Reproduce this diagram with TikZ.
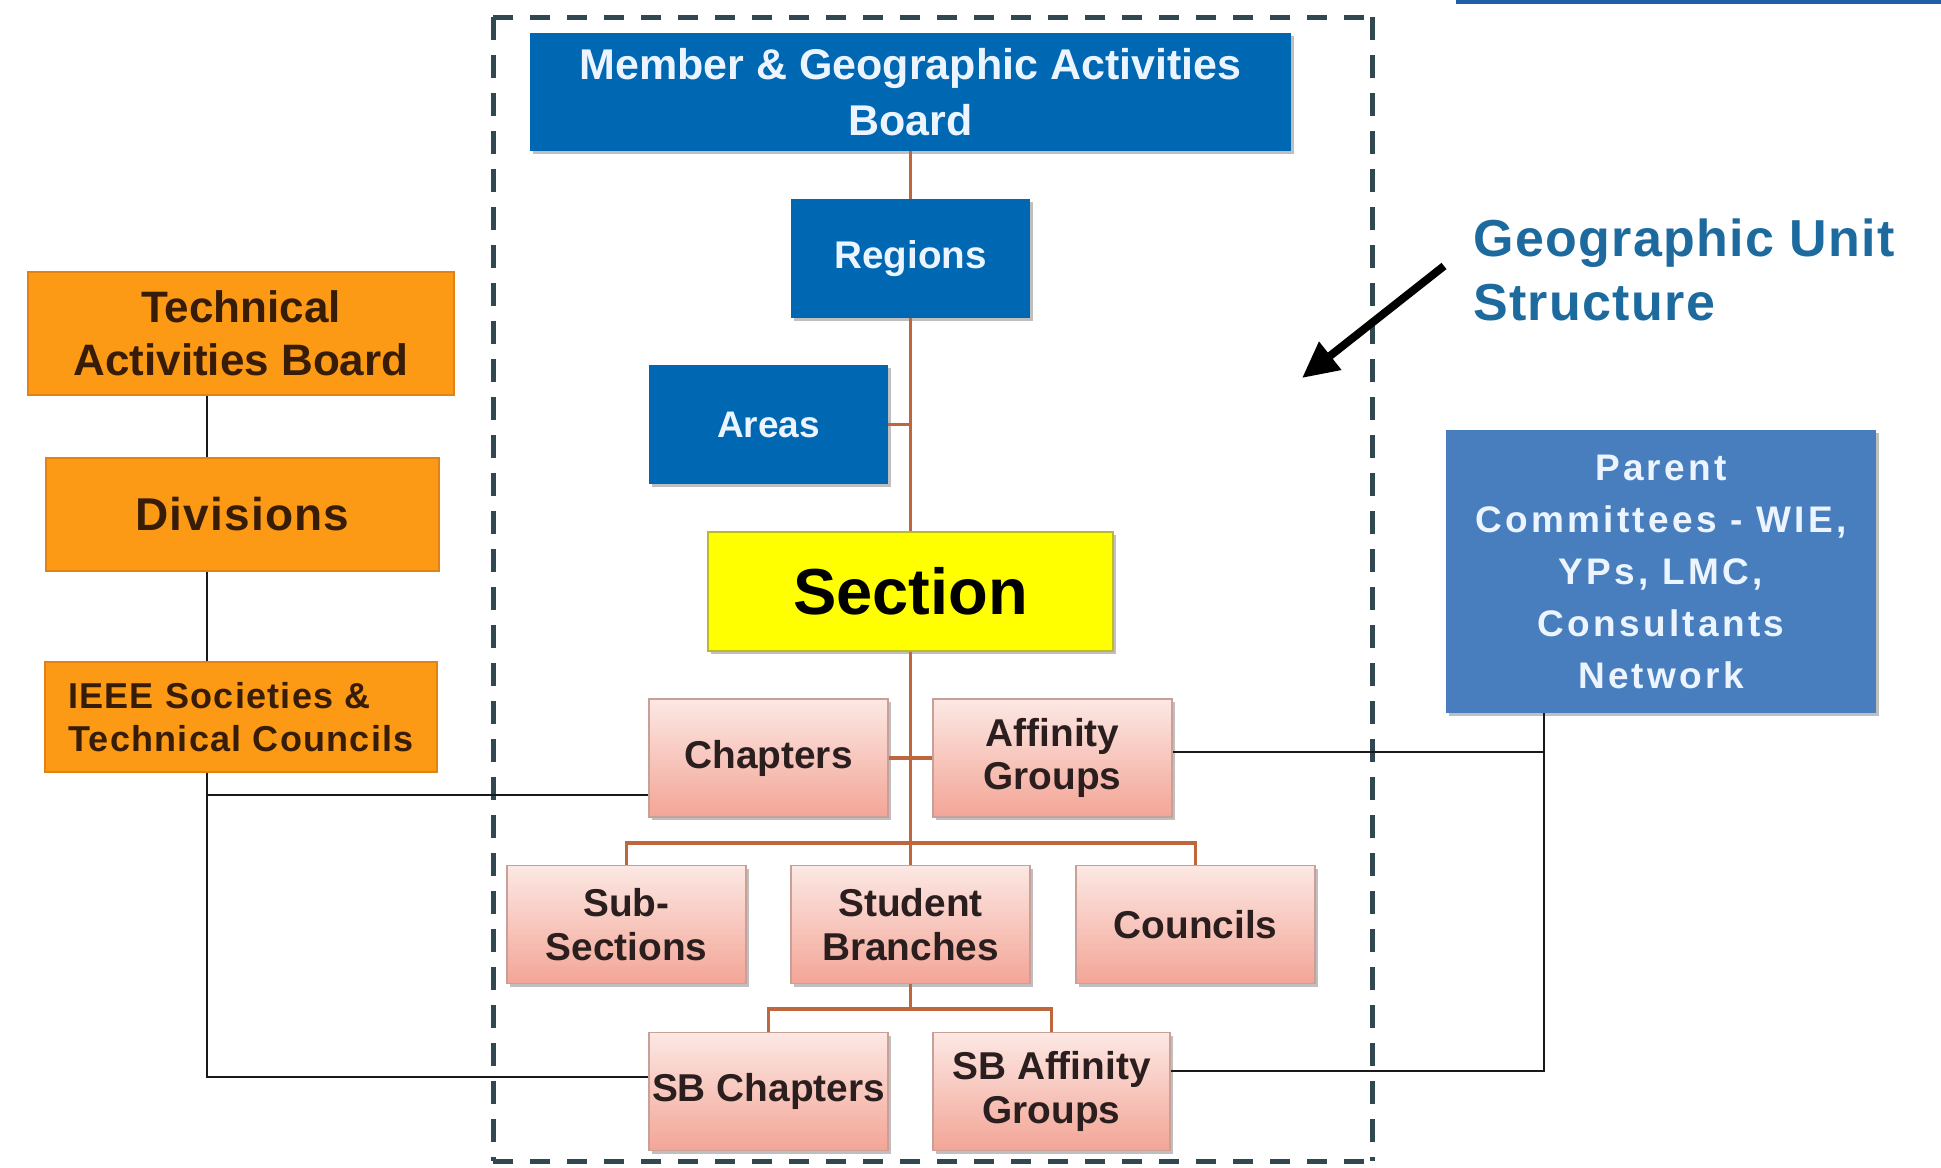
\documentclass[tikz,border=0pt]{standalone}
\usepackage{fontspec}
\setmainfont{Liberation Sans}
\usetikzlibrary{shadows,arrows.meta}
\definecolor{mgablue}{RGB}{0,103,178}
\definecolor{pcblue}{RGB}{72,126,190}
\definecolor{orng}{RGB}{252,154,22}
\definecolor{orngedge}{RGB}{225,130,20}
\definecolor{orngtxt}{RGB}{55,28,8}
\definecolor{secyellow}{RGB}{255,255,0}
\definecolor{secedge}{RGB}{190,185,40}
\definecolor{pinktop}{RGB}{252,232,228}
\definecolor{pinkbot}{RGB}{243,165,150}
\definecolor{pinkedge}{RGB}{200,160,152}
\definecolor{pinktxt}{RGB}{42,30,30}
\definecolor{trunk}{RGB}{190,102,60}
\definecolor{dashc}{RGB}{50,72,80}
\definecolor{geotxt}{RGB}{28,106,158}
\definecolor{topbar}{RGB}{31,95,168}
\definecolor{bluetxt}{RGB}{236,245,255}
\tikzset{
  softshadow/.style={drop shadow={shadow xshift=1.5pt, shadow yshift=-1.5pt, opacity=0.25, fill=black}},
  bluebox/.style={rectangle, fill=mgablue, text=bluetxt, align=center, inner sep=0pt, softshadow},
  pinkbox/.style={rectangle, draw=pinkedge, line width=0.6pt, top color=pinktop, bottom color=pinkbot,
     text=pinktxt, font=\bfseries\fontsize{19.4}{21.7}\selectfont, align=center,
     minimum width=119.5pt, minimum height=59pt, inner sep=0pt, softshadow},
  orangebox/.style={rectangle, fill=orng, draw=orngedge, line width=0.6pt, text=orngtxt, align=center, inner sep=0pt},
  tline/.style={draw=trunk, line width=1.8pt},
  bline/.style={draw=black!90, line width=1.4pt},
  dashh/.style={draw=dashc, line width=2.5pt, dash pattern=on 10pt off 8.5pt},
  dashv/.style={draw=dashc, line width=2.5pt, dash pattern=on 11.5pt off 7.5pt},
}
\begin{document}
\begin{tikzpicture}[x=0.5pt,y=-0.5pt]
\useasboundingbox (0,0) rectangle (1941,1167);
\fill[white] (0,0) rectangle (1941,1167);
\fill[topbar] (1456,0) rectangle (1941,4);

% dashed frame
\draw[dashh] (493,17) -- (1372,17);
\draw[dashh] (493,1161) -- (1372,1161);
\draw[dashv] (493,17) -- (493,1161);
\draw[dashv] (1372,17) -- (1372,1161);

% geographic nodes
\node[bluebox, minimum width=380.5pt, minimum height=59pt, font=\bfseries\fontsize{21.5}{28}\selectfont] (mga) at (910.5,92) {Member \& Geographic Activities\\Board};
\node[bluebox, minimum width=119.5pt, minimum height=59.5pt, font=\bfseries\fontsize{19.3}{22}\selectfont] (reg) at (910.5,258.5) {\raisebox{-2pt}{Regions}};
\node[bluebox, minimum width=119.5pt, minimum height=59.5pt, font=\bfseries\fontsize{18.5}{22}\selectfont] (area) at (768.5,424.5) {Areas};
\node[rectangle, fill=secyellow, draw=secedge, line width=1pt, minimum width=202.5pt, minimum height=59.5pt, inner sep=0pt, font=\bfseries\fontsize{32.5}{36}\selectfont, softshadow] (sec) at (910.5,591.5) {\raisebox{-2pt}{Section}};

\node[pinkbox] (cha) at (768.5,758) {Chapters};
\node[pinkbox] (aff) at (1052.5,758) {Affinity\\Groups};
\node[pinkbox] (sub) at (626.5,924.5) {Sub-\\Sections};
\node[pinkbox] (stb) at (910.5,924.5) {Student\\Branches};
\node[pinkbox] (cou) at (1195.5,924.5) {Councils};
\node[pinkbox] (sbc) at (768.5,1091.5) {SB Chapters};
\node[pinkbox, minimum width=118.5pt] (sba) at (1051.5,1091.5) {SB Affinity\\Groups};

% technical side
\node[orangebox, minimum width=213pt, minimum height=61.5pt, font=\bfseries\fontsize{22}{26.5}\selectfont] (tab) at (241,333.5) {Technical\\Activities Board};
\node[orangebox, minimum width=196.5pt, minimum height=56.5pt, font=\bfseries\fontsize{23}{26}\selectfont\addfontfeature{LetterSpace=2.5}] (div) at (242.5,514.5) {Divisions};
\node[orangebox, minimum width=196pt, minimum height=55pt, align=left, font=\bfseries\fontsize{18}{21.5}\selectfont\addfontfeature{LetterSpace=3.5}] (ieee) at (241,717) {IEEE Societies \&\\Technical Councils};

% parent committees
\node[rectangle, fill=pcblue, text=bluetxt, minimum width=215pt, minimum height=141.5pt, inner sep=0pt, align=center, softshadow, font=\bfseries\fontsize{18.5}{26}\selectfont\addfontfeature{LetterSpace=9}] (pc) at (1661,571.5) {Parent\\Committees - WIE,\\YPs, LMC,\\Consultants\\Network};

% title
\node[anchor=west, align=left, inner sep=0pt, text=geotxt, font=\bfseries\fontsize{26}{32}\selectfont\addfontfeature{LetterSpace=2.5}] (geo) at (1473,270) {Geographic Unit\\Structure};
\coordinate (arrS) at (1444,266);
\coordinate (arrE) at (1302,378);
\draw[black, line width=4pt, -{Triangle[length=18pt,width=17pt]}] (arrS) -- (arrE);

% orange trunk connectors
\draw[tline] (mga.south) -- (reg.north);
\draw[tline] (reg.south) -- (sec.north);
\draw[tline] (area.east) -- (area.east -| reg.south);
\coordinate (bar1) at (910.5,843);
\draw[tline] (sec.south) -- (bar1);
\draw[tline] (cha.east) -- (cha.east -| sec.south);
\draw[tline] (aff.west) -- (aff.west -| sec.south);
\draw[tline] (sub.north) -- (sub.north |- bar1) -- (cou.north |- bar1) -- (cou.north);
\draw[tline] (bar1) -- (stb.north);
\coordinate (bar2) at (910.5,1009);
\draw[tline] (stb.south) -- (bar2);
\draw[tline] (sbc.north) -- (sbc.north |- bar2) -- (sba.north |- bar2) -- (sba.north);

% black connectors, technical side
\coordinate (tcol) at (207,0);
\draw[bline] (tab.south -| tcol) -- (div.north -| tcol);
\draw[bline] (div.south -| tcol) -- (ieee.north -| tcol);
\coordinate (j1) at (207,795);
\coordinate (j2) at (207,1077);
\draw[bline] (ieee.south -| tcol) -- (j2) -- (j2 -| sbc.west);
\draw[bline] (j1) -- (j1 -| cha.west);

% black connectors, parent committees
\coordinate (pcol) at (1544,0);
\coordinate (k1) at (1544,752);
\coordinate (k2) at (1544,1071);
\draw[bline] (pc.south -| pcol) -- (k2) -- (k2 -| sba.east);
\draw[bline] (k1) -- (k1 -| aff.east);
\end{tikzpicture}
\end{document}
